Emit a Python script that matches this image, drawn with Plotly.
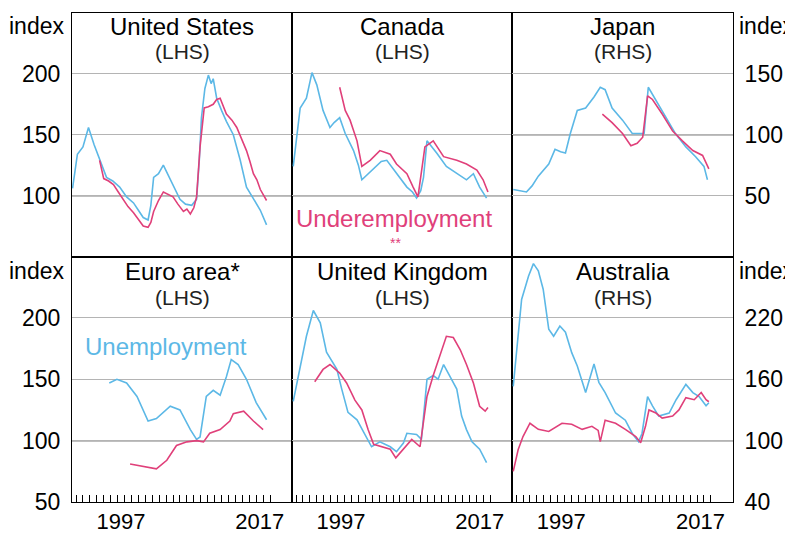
import plotly.graph_objects as go

# ---------------- data (year, index) ----------------
us_unemp_x = [1990.5, 1991.2, 1992.0, 1992.8, 1993.6, 1994.5, 1995.4, 1996.3, 1997.3, 1998.3, 1999.3, 2000.0, 2000.7, 2001.4, 2001.8, 2002.2, 2002.9, 2003.6, 2004.6, 2005.3, 2006.0, 2006.8, 2007.7, 2008.4, 2008.8, 2009.1, 2009.6, 2010.1, 2010.5, 2010.8, 2011.3, 2012.0, 2012.7, 2013.7, 2014.7, 2015.6, 2016.6, 2017.6, 2018.5]
us_unemp_y = [106, 134, 140, 156, 142, 129, 115, 112, 107, 99, 94, 88, 82, 80, 92, 115, 118, 125, 113, 106, 97, 93, 92, 97, 130, 164, 188, 199, 192, 196, 180, 170, 161, 150, 129, 107, 97, 88, 76]
us_under_x = [1994.4, 1995.0, 1995.7, 1996.4, 1997.1, 1997.8, 1998.5, 1999.3, 2000.0, 2000.7, 2001.4, 2001.8, 2002.2, 2002.9, 2003.6, 2004.3, 2005.0, 2005.7, 2006.5, 2007.0, 2007.5, 2008.0, 2008.4, 2008.9, 2009.5, 2010.1, 2010.8, 2011.3, 2011.8, 2012.7, 2013.5, 2014.2, 2014.9, 2015.6, 2016.1, 2016.6, 2017.1, 2017.6, 2018.1, 2018.5]
us_under_y = [129, 114, 112, 109, 103, 97, 91, 86, 80, 75, 74, 78, 87, 96, 103, 101, 99, 93, 87, 89, 85, 90, 99, 140, 172, 173, 175, 179, 180, 167, 162, 156, 146, 137, 128, 118, 113, 105, 100, 96]

ca_unemp_x = [1990.6, 1991.1, 1991.6, 1992.5, 1993.3, 1994.0, 1994.9, 1995.9, 1996.5, 1997.3, 1998.1, 1999.3, 2000.0, 2000.5, 2001.4, 2002.6, 2003.3, 2004.1, 2005.5, 2007.0, 2007.8, 2008.4, 2009.0, 2009.4, 2009.9, 2011.3, 2012.7, 2014.2, 2015.6, 2016.6, 2017.5, 2018.5]
ca_unemp_y = [124, 150, 172, 180, 201, 191, 170, 156, 160, 164, 151, 137, 125, 113, 118, 124, 128, 129, 118, 107, 103, 98, 104, 115, 145, 135, 124, 118, 113, 118, 107, 98]
ca_under_x = [1997.3, 1998.1, 1998.8, 1999.8, 2000.5, 2001.7, 2003.1, 2004.6, 2005.5, 2007.0, 2007.9, 2008.6, 2009.6, 2010.8, 2012.3, 2014.2, 2015.6, 2017.1, 2018.0, 2018.7]
ca_under_y = [189, 170, 162, 145, 124, 129, 137, 134, 126, 118, 107, 99, 140, 145, 132, 129, 126, 121, 113, 103]

jp_unemp_x = [1990.6, 1992.5, 1993.3, 1994.2, 1995.7, 1996.6, 1997.4, 1998.1, 1998.8, 1999.8, 2001.0, 2002.2, 2003.1, 2003.8, 2004.8, 2006.3, 2007.7, 2008.6, 2009.4, 2010.0, 2011.1, 2012.5, 2013.9, 2015.4, 2016.8, 2018.0, 2018.5]
jp_unemp_y = [55, 53, 58, 66, 76, 88, 86, 85, 101, 120, 122, 131, 139, 137, 122, 112, 101, 101, 101, 139, 128, 114, 101, 90, 82, 74, 63]
jp_under_x = [2003.4, 2004.8, 2006.3, 2007.5, 2008.4, 2009.2, 2009.9, 2010.6, 2012.0, 2013.5, 2014.9, 2016.4, 2017.8, 2018.7]
jp_under_y = [117, 110, 101, 91, 93, 98, 132, 129, 117, 103, 95, 87, 83, 72]

eu_unemp_x = [1995.8, 1996.9, 1998.3, 1999.8, 2001.4, 2002.6, 2004.6, 2006.0, 2007.5, 2008.4, 2008.9, 2009.8, 2010.8, 2011.8, 2012.7, 2013.4, 2014.4, 2015.6, 2017.0, 2018.5]
eu_unemp_y = [147, 150, 147, 136, 116, 118, 128, 125, 109, 101, 103, 136, 141, 137, 152, 166, 162, 150, 131, 117]
eu_under_x = [1998.8, 2000.7, 2002.6, 2004.1, 2005.5, 2007.0, 2008.4, 2009.4, 2010.3, 2011.8, 2013.2, 2013.7, 2015.2, 2016.6, 2018.0]
eu_under_y = [81, 79, 77, 84, 96, 99, 100, 99, 106, 109, 116, 122, 124, 116, 109]

uk_unemp_x = [1990.6, 1991.6, 1992.5, 1993.5, 1994.5, 1995.4, 1996.9, 1997.6, 1998.5, 1999.8, 2001.2, 2001.9, 2003.1, 2004.6, 2005.5, 2006.5, 2007.0, 2008.4, 2009.1, 2009.9, 2010.8, 2011.5, 2012.3, 2013.2, 2014.2, 2014.9, 2015.6, 2016.4, 2017.5, 2018.5]
uk_unemp_y = [132, 161, 185, 206, 196, 172, 158, 142, 123, 117, 103, 95, 99, 95, 91, 98, 106, 105, 101, 150, 153, 150, 162, 153, 142, 120, 109, 99, 93, 82]
uk_under_x = [1993.7, 1994.9, 1995.9, 1997.3, 1998.3, 1999.5, 2000.5, 2001.4, 2002.2, 2003.6, 2004.6, 2005.4, 2006.5, 2007.7, 2008.9, 2009.9, 2010.8, 2011.8, 2012.7, 2013.7, 2014.7, 2015.6, 2016.6, 2017.5, 2018.3, 2018.7]
uk_under_y = [148, 158, 162, 155, 147, 133, 125, 109, 97, 95, 93, 86, 93, 101, 95, 136, 153, 169, 185, 184, 174, 162, 147, 128, 124, 127]

au_unemp_x = [1990.6, 1991.8, 1992.8, 1993.5, 1994.2, 1994.9, 1995.7, 1996.4, 1997.3, 1998.1, 1999.0, 1999.8, 2001.0, 2002.2, 2002.9, 2003.8, 2005.3, 2006.7, 2007.7, 2008.6, 2009.1, 2009.9, 2010.6, 2011.5, 2013.0, 2014.0, 2015.4, 2016.4, 2017.3, 2018.3, 2018.7]
au_unemp_y = [153, 238, 261, 273, 266, 248, 209, 202, 212, 206, 186, 173, 147, 175, 157, 147, 127, 120, 107, 99, 107, 143, 134, 124, 127, 140, 155, 147, 143, 134, 137]
au_under_x = [1990.6, 1991.3, 1992.0, 1993.0, 1994.2, 1995.7, 1997.6, 1999.0, 2000.5, 2001.9, 2002.8, 2003.1, 2003.8, 2005.3, 2006.7, 2008.2, 2008.9, 2009.6, 2010.1, 2011.1, 2012.0, 2013.5, 2014.4, 2015.4, 2016.6, 2017.6, 2018.3, 2018.7]
au_under_y = [70, 91, 104, 117, 111, 109, 117, 116, 111, 114, 110, 99, 120, 117, 111, 104, 98, 114, 130, 127, 122, 124, 130, 142, 140, 147, 140, 138]

panel_titles = ["United States", "Canada", "Japan", "Euro area*", "United Kingdom", "Australia"]
panel_sides = ["(LHS)", "(LHS)", "(RHS)", "(LHS)", "(LHS)", "(RHS)"]
year_ticks = list(range(1991, 2020))
year_label_vals = [1997.5, 2017.5]
year_label_text = ["1997", "2017"]
lhs_ticks = [50, 100, 150, 200]
jp_ticks = [50, 100, 150]
au_ticks = [40, 100, 160, 220]

BLUE = "#5cb8e6"
PINK = "#e0407a"
FONT = "Liberation Sans, Arial, sans-serif"

series = [
    (us_unemp_x, us_unemp_y, us_under_x, us_under_y),
    (ca_unemp_x, ca_unemp_y, ca_under_x, ca_under_y),
    (jp_unemp_x, jp_unemp_y, jp_under_x, jp_under_y),
    (eu_unemp_x, eu_unemp_y, eu_under_x, eu_under_y),
    (uk_unemp_x, uk_unemp_y, uk_under_x, uk_under_y),
    (au_unemp_x, au_unemp_y, au_under_x, au_under_y),
]

# page has an 8px body margin; the figure is sized to fill the rest of the window
OFF = 8
W, H = 793 - OFF, 534 - OFF
PL, PR, PT, PB = 72, 733, 13, 502          # plot-area edges in window pixels
L, R, T, B = PL - OFF, (W + OFF) - PR, PT - OFF, (H + OFF) - PB
pw, ph = PR - PL, PB - PT
xcuts = [0, 220 / pw, 440 / pw, 1]
ysplit = (PB - 256.5) / ph
xr = [1990.42, 2022.17]


def px(xpix):
    return (xpix - PL) / pw


def py(ypix):
    return (PB - ypix) / ph


fig = go.Figure()
layout = {}
for i, (ux, uy, dx, dy) in enumerate(series):
    n = i + 1
    sx = "" if n == 1 else str(n)
    col, row = i % 3, i // 3
    fig.add_trace(go.Scatter(x=ux, y=uy, mode="lines", line=dict(color=BLUE, width=1.6),
                             xaxis="x" + sx, yaxis="y" + sx, showlegend=False))
    fig.add_trace(go.Scatter(x=dx, y=dy, mode="lines", line=dict(color=PINK, width=1.6),
                             xaxis="x" + sx, yaxis="y" + sx, showlegend=False))
    xd = [xcuts[col], xcuts[col + 1]]
    yd = [ysplit, 1] if row == 0 else [0, ysplit]
    xa = dict(domain=xd, range=xr, anchor="y" + sx, showgrid=False, zeroline=False,
              showline=True, mirror=True, linecolor="black", linewidth=1)
    if row == 1:
        xa.update(tickmode="array", tickvals=year_label_vals, ticktext=year_label_text,
                  ticks="", ticklabelstandoff=0, tickfont=dict(size=22),
                  minor=dict(tickmode="array", tickvals=year_ticks, ticks="inside",
                             ticklen=7, tickcolor="black", tickwidth=1, showgrid=False))
    else:
        xa.update(showticklabels=False, ticks="")
    if i == 2:
        yr, tv, side = [0, 200], jp_ticks, "right"
    elif i == 5:
        yr, tv, side = [40, 280], au_ticks, "right"
    else:
        yr, tv, side = [50, 250], lhs_ticks, "left"
    show_lbl = (col == 0) or (col == 2)
    lbl_vals = [100, 150, 200] if i == 0 else tv
    ya = dict(domain=yd, range=yr, anchor="x" + sx, side=side, tickmode="array",
              tickvals=tv, ticktext=[str(v) if v in lbl_vals else "" for v in tv],
              showticklabels=show_lbl, ticks="", ticklabelstandoff=6, tickfont=dict(size=23),
              showgrid=True, gridcolor="#b4b4b4", gridwidth=1, zeroline=False,
              showline=True, mirror=True, linecolor="black", linewidth=1)
    layout["xaxis" + sx] = xa
    layout["yaxis" + sx] = ya
    fig.add_shape(type="line", xref="x" + sx + " domain", yref="y" + sx,
                  x0=0, x1=1, y0=100, y1=100, line=dict(color="black", width=1.2), layer="below")
    xc = (xd[0] + xd[1]) / 2
    ty = py(26) if row == 0 else py(271.5)
    sy = py(51) if row == 0 else py(297.5)
    fig.add_annotation(text=panel_titles[i], x=xc, y=ty, xref="paper", yref="paper",
                       xanchor="center", yanchor="middle", showarrow=False,
                       font=dict(size=24, color="black"))
    fig.add_annotation(text=panel_sides[i], x=xc, y=sy, xref="paper", yref="paper",
                       xanchor="center", yanchor="middle", showarrow=False,
                       font=dict(size=21, color="#222222"))

fig.update_layout(**layout)

for xx, yy, anc in [(px(66), py(26), "right"), (px(66), py(271), "right"),
                    (px(737), py(26), "left"), (px(737), py(271), "left")]:
    fig.add_annotation(text="index", x=xx, y=yy, xref="paper", yref="paper", xanchor=anc,
                       yanchor="middle", showarrow=False, font=dict(size=23, color="black"))

fig.add_annotation(text="Underemployment", x=px(394), y=py(218), xref="paper", yref="paper",
                   xanchor="center", yanchor="middle", showarrow=False,
                   font=dict(size=24, color=PINK))
fig.add_annotation(text="**", x=px(395), y=py(243), xref="paper", yref="paper",
                   xanchor="center", yanchor="middle", showarrow=False,
                   font=dict(size=14, color=PINK))
fig.add_annotation(text="Unemployment", x=px(166), y=py(346.7), xref="paper", yref="paper",
                   xanchor="center", yanchor="middle", showarrow=False,
                   font=dict(size=24, color=BLUE))

fig.update_layout(width=W, height=H, margin=dict(l=L, r=R, t=T, b=B, autoexpand=False),
                  paper_bgcolor="white", plot_bgcolor="white",
                  font=dict(family=FONT, size=22, color="black"))

fig.write_html("out.html")
